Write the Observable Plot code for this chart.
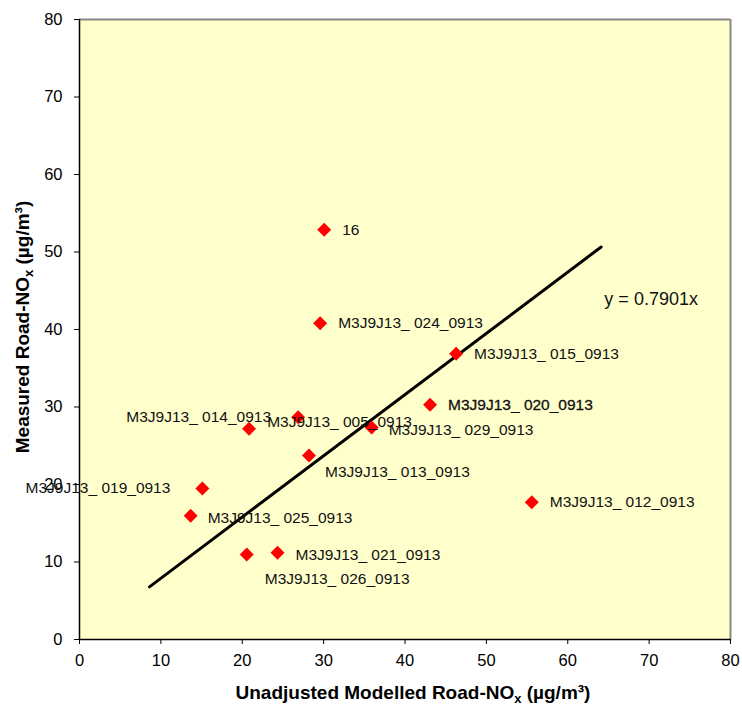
<!DOCTYPE html>
<html><head><meta charset="utf-8">
<script src="https://cdn.jsdelivr.net/npm/d3@7"></script>
<script src="https://cdn.jsdelivr.net/npm/@observablehq/plot@0.6"></script>
<style>body{margin:0;background:#fff}</style>
</head><body><div id="chart"></div>
<script>
// ---- data ----
const siteLabels = ["16","M3J9J13_ 024_0913","M3J9J13_ 015_0913","M3J9J13_ 020_0913","M3J9J13_ 005_0913","M3J9J13_ 014_0913","M3J9J13_ 029_0913","M3J9J13_ 013_0913","M3J9J13_ 019_0913","M3J9J13_ 025_0913","M3J9J13_ 012_0913","M3J9J13_ 021_0913","M3J9J13_ 026_0913"];
const modelled = [30.07, 29.57, 46.28, 43.08, 26.87, 20.84, 35.9, 28.2, 15.1, 13.66, 55.58, 24.33, 20.55];
const measured = [52.86, 40.81, 36.86, 30.28, 28.68, 27.19, 27.35, 23.74, 19.48, 15.97, 17.71, 11.19, 10.97];
const slope = 0.7901;
const trendRange = [8.6, 64.1];
const equationText = "y = 0.7901x";
const equationAt = [64.5, 43.9];
const xTicks = [0,10,20,30,40,50,60,70,80];
const yTicks = [0,10,20,30,40,50,60,70,80];

// ---- layout (label placement: anchor, dx, dy) ----
const placement = [
  ["start",18,0],["start",18,0],["start",18,0],["start",18,0],
  ["start",-31,5],["end",22,-12],["start",17,2],["start",16,17],
  ["end",-32,0],["start",17,2],["start",18,0],["start",18,2],["start",18,25]
];

const pts = siteLabels.map((s,i)=>({site:s, x:modelled[i], y:measured[i]}));
const trend = trendRange.map(x=>({x, y: slope*x}));
const FONT = "'Liberation Sans', Arial, sans-serif";

const labelMarks = pts.map((p,i)=>Plot.text([p], {
  x:"x", y:"y", text:"site", textAnchor: placement[i][0], dx: placement[i][1], dy: placement[i][2],
  fontSize: 15.5, fill: "#111",
  ...(i===3 ? {stroke:"#111", strokeWidth:0.3} : {})
}));

const chart = Plot.plot({
  width: 742, height: 707,
  marginLeft: 79, marginRight: 12, marginTop: 19, marginBottom: 68,
  style: {fontFamily: FONT, fontSize: "16.5px", background: "white", color: "black"},
  x: {domain:[0,80]},
  y: {domain:[0,80]},
  marks: [
    Plot.frame({fill:"#FFFFCC", stroke:"none"}),
    Plot.ruleY([80], {stroke:"#888", strokeWidth:2}),
    Plot.ruleX([80], {stroke:"#888", strokeWidth:2}),
    Plot.axisX({ticks:xTicks, tickSize:5, tickPadding:10, label:null, fontSize:16.5, stroke:"black"}),
    Plot.axisY({ticks:yTicks, tickSize:5, tickPadding:12, label:null, fontSize:16.5, stroke:"black"}),
    Plot.ruleY([0], {stroke:"black", strokeWidth:1.5}),
    Plot.ruleX([0], {stroke:"black", strokeWidth:1.5}),
    Plot.line(trend, {x:"x", y:"y", stroke:"black", strokeWidth:3}),
    Plot.dot(pts, {x:"x", y:"y", symbol:"diamond2", r:6.3, fill:"#FF0000", stroke:"none"}),
    ...labelMarks,
    Plot.text([{x:equationAt[0], y:equationAt[1], t:equationText}], {x:"x", y:"y", text:"t", textAnchor:"start", fontSize:18, fill:"#111"})
  ]
});
document.getElementById("chart").appendChild(chart);

// axis titles with subscript
const svg = d3.select(chart);
function title(g, main){
  const t = g.append("text").attr("text-anchor","middle").attr("font-weight","bold")
    .attr("font-size","19px").attr("font-family",FONT).attr("fill","black");
  t.append("tspan").text(main);
  t.append("tspan").attr("font-size","13px").attr("dy","4").text("x");
  t.append("tspan").attr("dy","-4").text(" (µg/m³)");
  return t;
}
title(svg.append("g").attr("transform","translate(413,699)"), "Unadjusted Modelled Road-NO");
title(svg.append("g").attr("transform","translate(22,327) rotate(-90)").append("g"), "Measured Road-NO")
  .attr("y", 7);
</script>
</body></html>
